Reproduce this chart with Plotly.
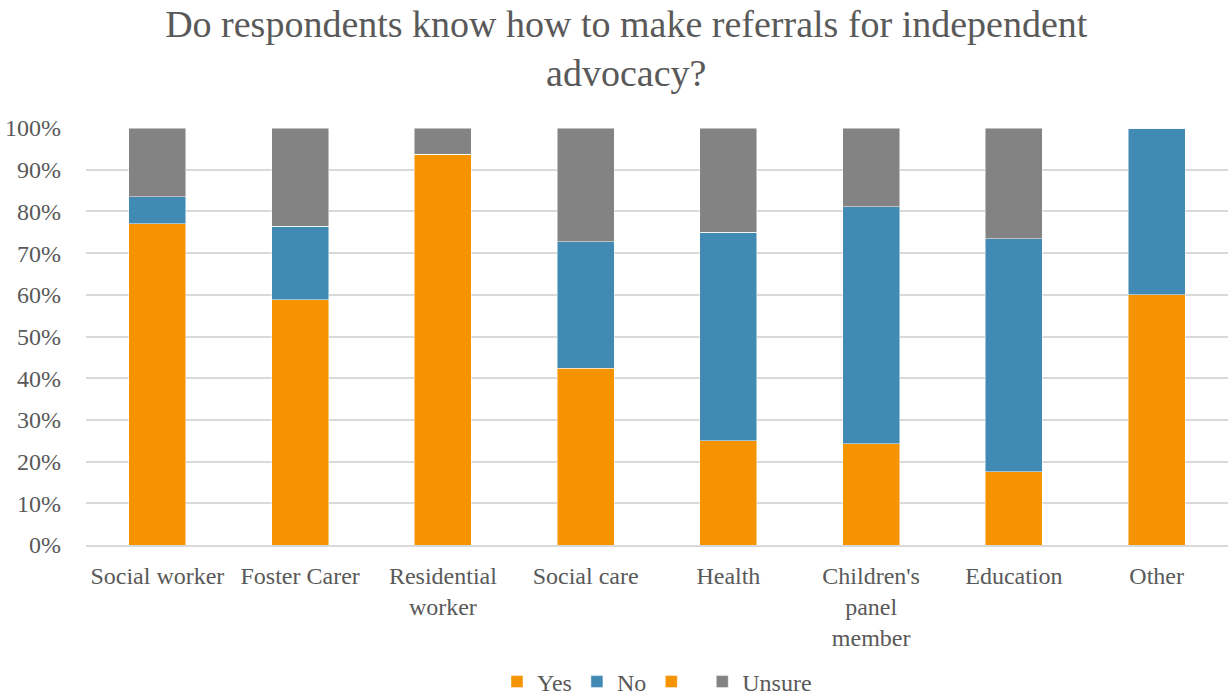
import plotly.graph_objects as go

categories = ["Social worker", "Foster Carer", "Residential<br>worker", "Social care",
              "Health", "Children's<br>panel<br>member", "Education", "Other"]
yes = [0.770, 0.588, 0.9375, 0.424, 0.25, 0.243, 0.176, 0.60]
no = [0.065, 0.176, 0.0, 0.303, 0.50, 0.568, 0.559, 0.40]
blank = [0, 0, 0, 0, 0, 0, 0, 0]
unsure = [0.165, 0.236, 0.0625, 0.273, 0.25, 0.189, 0.265, 0.0]

FONT = "Liberation Serif"
TEXT = "#595959"

fig = go.Figure()
line = dict(color="rgba(255,255,255,0.6)", width=0.8)
fig.add_bar(x=categories, y=yes, name="Yes", marker=dict(color="#F59300", line=line))
fig.add_bar(x=categories, y=no, name="No", marker=dict(color="#418AB3", line=line))
fig.add_bar(x=categories, y=blank, name=" ", marker=dict(color="#F59300", line=line))
fig.add_bar(x=categories, y=unsure, name="Unsure", marker=dict(color="#838383", line=line))

fig.update_layout(
    barmode="stack",
    bargap=0.6,
    width=1228, height=698,
    margin=dict(l=86, r=0, t=128, b=153, autoexpand=False),
    paper_bgcolor="white", plot_bgcolor="white",
    font=dict(family=FONT, color=TEXT, size=24),
    title=dict(
        text="Do respondents know how to make referrals for independent<br>advocacy?",
        x=0.51, xanchor="center", yref="container", y=0.947, yanchor="middle",
        font=dict(family=FONT, size=38, color=TEXT),
    ),
    legend=dict(orientation="h", x=0.5, xanchor="center", yref="container",
                y=(698 - 682) / 698, yanchor="middle",
                font=dict(size=24, color=TEXT), itemwidth=30, traceorder="normal"),
    showlegend=True,
)
fig.update_yaxes(range=[0, 1], tickformat=".0%", dtick=0.1, showgrid=True,
                 gridcolor="#D9D9D9", gridwidth=1.5, zeroline=False,
                 ticks="", tickfont=dict(size=24, color=TEXT), ticksuffix="    ")
fig.update_xaxes(showgrid=False, showline=True, linecolor="#D9D9D9", linewidth=1.5,
                 tickfont=dict(size=24, color=TEXT), ticks="", ticklabelstandoff=8)

fig.write_html("out.html")
